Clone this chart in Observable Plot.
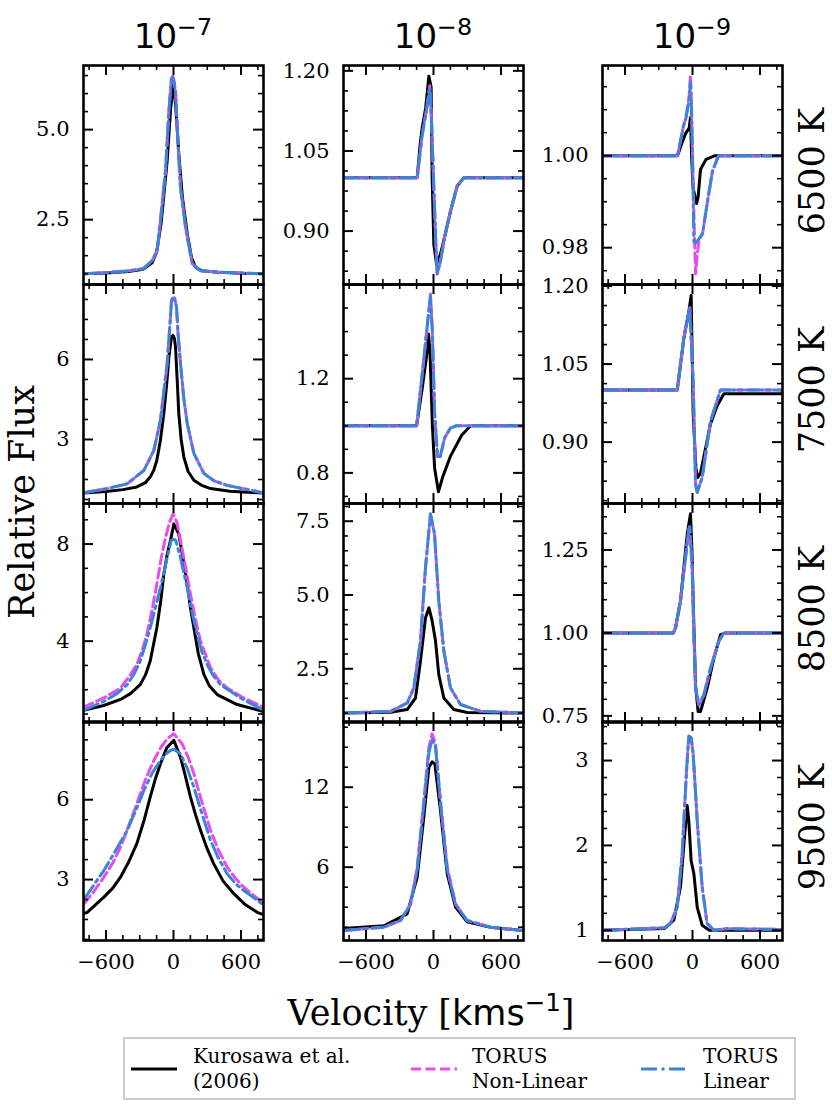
<!DOCTYPE html>
<html><head><meta charset="utf-8">
<script src="https://cdn.jsdelivr.net/npm/d3@7"></script>
<script src="https://cdn.jsdelivr.net/npm/@observablehq/plot@0.6"></script>
<style>
body{margin:0;background:#fff;}
#fig{position:relative;width:832px;height:1108px;overflow:hidden;background:#fff;}
.abs{position:absolute;white-space:nowrap;transform:translate(-50%,-50%);line-height:1;}
.rot{transform:translate(-50%,-50%) rotate(-90deg);}
sup{font-size:0.7em;vertical-align:0.55em;line-height:0;}
</style></head><body><div id="fig"></div>
<script>
// ---------------- DATA: [velocity km/s, relative flux] ----------------
const temps = ["6500 K", "7500 K", "8500 K", "9500 K"];
const rateExp = ["−7", "−8", "−9"];
const xTicks = [-600, 0, 600];
const seriesNames = ["Kurosawa et al.|(2006)", "TORUS|Non-Linear", "TORUS|Linear"];

// 6500 K
const K65_7 = [[-800,1.0],[-600,1.02],[-400,1.06],[-270,1.12],[-190,1.3],[-150,1.6],[-110,2.4],[-56,4.14],[-25,5.6],[3,6.31],[25,5.4],[47,4.33],[80,3.1],[122,2.11],[160,1.45],[196,1.18],[250,1.08],[400,1.04],[600,1.01],[800,1.0]];
const N65_7 = [[-800,1.0],[-600,1.03],[-400,1.08],[-267,1.14],[-190,1.36],[-145,1.64],[-116,2.47],[-71,3.86],[-41,5.53],[-18,6.45],[-8,6.52],[5,6.35],[18,6.08],[33,5.06],[62,3.4],[107,2.29],[166,1.28],[240,1.08],[400,1.04],[600,1.02],[800,1.0]];
const L65_7 = [[-800,1.0],[-600,1.03],[-400,1.08],[-267,1.14],[-190,1.36],[-145,1.64],[-116,2.47],[-71,3.86],[-41,5.5],[-18,6.4],[-8,6.45],[5,6.3],[18,6.05],[33,5.06],[62,3.4],[107,2.29],[166,1.28],[240,1.08],[400,1.04],[600,1.02],[800,1.0]];
const K65_8 = [[-800,1.0],[-145,1.0],[-120,1.06],[-100,1.094],[-70,1.13],[-41,1.19],[-21,1.169],[-12,1.0],[3,0.875],[27,0.838],[62,0.857],[100,0.89],[151,0.937],[210,0.984],[270,1.0],[800,1.0]];
const N65_8 = [[-800,1.0],[-145,1.0],[-100,1.08],[-60,1.13],[-33,1.172],[-20,1.12],[0,1.0],[20,0.88],[33,0.819],[62,0.844],[100,0.89],[151,0.937],[210,0.984],[270,1.0],[800,1.0]];
const L65_8 = [[-800,1.0],[-145,1.0],[-100,1.08],[-60,1.13],[-33,1.17],[-20,1.12],[0,1.0],[20,0.88],[33,0.82],[62,0.844],[100,0.89],[151,0.937],[210,0.984],[270,1.0],[800,1.0]];
const K65_9 = [[-800,1.0],[-133,1.0],[-90,1.003],[-62,1.0048],[-30,1.006],[-18,1.0083],[-8,1.0],[5,0.993],[36,0.9896],[50,0.991],[71,0.997],[120,0.9992],[200,1.0],[800,1.0]];
const N65_9 = [[-800,1.0],[-133,1.0],[-100,1.004],[-80,1.0065],[-60,1.008],[-30,1.013],[-18,1.0174],[-10,1.012],[0,1.0],[15,0.985],[27,0.9743],[40,0.978],[60,0.982],[89,0.983],[133,0.990],[178,0.9967],[231,1.0],[800,1.0]];
const L65_9 = [[-800,1.0],[-133,1.0],[-100,1.004],[-80,1.0065],[-60,1.008],[-30,1.012],[-18,1.016],[-10,1.011],[0,1.0],[12,0.9813],[27,0.981],[60,0.982],[89,0.983],[133,0.990],[178,0.9967],[231,1.0],[800,1.0]];
// 7500 K
const K75_7 = [[-800,0.99],[-600,1.05],[-450,1.12],[-326,1.22],[-250,1.38],[-207,1.59],[-175,1.85],[-148,2.22],[-117,2.95],[-86,3.97],[-60,5.1],[-41,6.09],[-18,6.84],[-5,6.9],[8,6.8],[18,6.46],[33,5.21],[47,3.97],[68,3.0],[92,2.34],[130,1.8],[181,1.47],[250,1.28],[329,1.16],[500,1.06],[800,0.99]];
const N75_7 = [[-800,1.0],[-600,1.15],[-411,1.34],[-263,1.84],[-175,2.59],[-116,3.72],[-56,5.85],[-30,7.4],[-18,8.21],[-3,8.38],[10,8.3],[27,7.96],[40,7.0],[62,5.85],[90,4.6],[122,3.6],[181,2.48],[270,1.73],[360,1.45],[477,1.28],[800,1.0]];
const L75_7 = [[-800,1.0],[-600,1.15],[-411,1.34],[-263,1.84],[-175,2.59],[-116,3.72],[-56,5.85],[-30,7.4],[-18,8.18],[-3,8.33],[10,8.26],[27,7.96],[40,7.0],[62,5.85],[90,4.6],[122,3.6],[181,2.48],[270,1.73],[360,1.45],[477,1.28],[800,1.0]];
const K75_8 = [[-800,1.0],[-150,1.0],[-100,1.16],[-60,1.3],[-44,1.39],[-30,1.3],[-10,1.0],[10,0.82],[44,0.72],[80,0.78],[150,0.87],[250,0.96],[330,1.0],[800,1.0]];
const N75_8 = [[-800,1.0],[-150,1.0],[-100,1.22],[-50,1.45],[-27,1.56],[-10,1.4],[10,1.05],[36,0.87],[60,0.87],[100,0.95],[150,0.99],[200,1.0],[800,1.0]];
const L75_8 = [[-800,1.0],[-150,1.0],[-100,1.22],[-50,1.45],[-27,1.55],[-10,1.4],[10,1.05],[36,0.87],[60,0.87],[100,0.95],[150,0.99],[200,1.0],[800,1.0]];
const K75_9 = [[-800,1.0],[-136,1.0],[-100,1.06],[-77,1.10],[-33,1.15],[-12,1.182],[6,0.955],[30,0.85],[47,0.832],[71,0.84],[160,0.935],[219,0.97],[279,0.993],[800,0.993]];
const N75_9 = [[-800,1.0],[-136,1.0],[-100,1.06],[-77,1.10],[-50,1.13],[-33,1.15],[-24,1.16],[-10,1.09],[6,1.018],[27,0.82],[42,0.803],[86,0.832],[160,0.94],[204,0.97],[249,1.0],[800,1.0]];
const L75_9 = [[-800,1.0],[-136,1.0],[-100,1.06],[-77,1.10],[-50,1.13],[-33,1.15],[-24,1.16],[-10,1.09],[6,1.018],[27,0.82],[42,0.803],[86,0.832],[160,0.94],[204,0.97],[249,1.0],[800,1.0]];
// 8500 K
const K85_7 = [[-800,1.15],[-620,1.35],[-471,1.6],[-380,1.85],[-296,2.21],[-250,2.6],[-207,3.18],[-148,4.55],[-115,5.6],[-86,6.76],[-55,7.6],[-27,8.14],[3,8.83],[47,8.41],[85,7.4],[122,6.35],[150,5.4],[181,4.55],[220,3.5],[270,2.63],[320,2.15],[388,1.8],[566,1.39],[800,1.1]];
const N85_7 = [[-800,1.28],[-619,1.66],[-471,2.07],[-400,2.5],[-326,3.04],[-280,3.6],[-237,4.28],[-190,5.3],[-148,6.35],[-110,7.4],[-71,8.27],[-35,8.9],[-3,9.24],[30,8.9],[62,8.14],[105,7.1],[151,5.93],[195,4.9],[240,4.0],[329,2.9],[400,2.4],[477,2.07],[625,1.66],[800,1.28]];
const L85_7 = [[-800,1.15],[-619,1.52],[-500,1.85],[-411,2.21],[-350,2.65],[-296,3.18],[-250,3.85],[-207,4.55],[-160,5.4],[-116,6.2],[-85,6.85],[-56,7.45],[-20,8.15],[3,8.2],[20,8.15],[62,7.45],[90,6.85],[122,6.2],[165,5.2],[210,4.28],[250,3.6],[299,3.04],[350,2.6],[418,2.21],[596,1.66],[800,1.15]];
const K85_8 = [[-800,1.0],[-382,1.03],[-234,1.12],[-160,1.51],[-116,2.76],[-71,4.23],[-41,4.57],[-12,4.12],[18,3.44],[47,2.3],[92,1.51],[181,1.12],[300,1.02],[800,1.0]];
const N85_8 = [[-800,1.0],[-382,1.06],[-234,1.34],[-175,1.85],[-116,3.44],[-71,5.93],[-27,7.75],[9,7.07],[47,4.8],[92,3.1],[151,1.85],[240,1.29],[418,1.06],[800,1.0]];
const L85_8 = [[-800,1.0],[-382,1.06],[-234,1.34],[-175,1.85],[-116,3.44],[-71,5.93],[-27,7.75],[9,7.07],[47,4.8],[92,3.1],[151,1.85],[240,1.29],[418,1.06],[800,1.0]];
const K85_9 = [[-800,1.0],[-170,1.0],[-151,1.015],[-107,1.096],[-47,1.298],[-18,1.359],[-5,1.25],[12,1.025],[27,0.843],[50,0.763],[71,0.763],[130,0.833],[190,0.924],[249,0.995],[300,1.0],[800,1.0]];
const N85_9 = [[-800,1.0],[-170,1.0],[-151,1.015],[-107,1.096],[-62,1.227],[-33,1.313],[-25,1.32],[-3,1.197],[12,0.995],[27,0.833],[56,0.783],[101,0.813],[160,0.894],[234,0.975],[279,1.0],[800,1.0]];
const L85_9 = [[-800,1.0],[-170,1.0],[-151,1.015],[-107,1.096],[-62,1.227],[-33,1.313],[-25,1.32],[-3,1.197],[12,0.995],[27,0.833],[56,0.783],[101,0.813],[160,0.894],[234,0.975],[279,1.0],[800,1.0]];
// 9500 K
const K95_7 = [[-800,1.72],[-767,1.77],[-619,2.34],[-540,2.68],[-471,3.09],[-400,3.65],[-326,4.35],[-260,5.25],[-207,6.1],[-160,6.8],[-116,7.35],[-60,7.95],[3,8.23],[62,7.6],[105,6.9],[151,6.1],[195,5.45],[240,4.85],[300,4.15],[358,3.59],[440,2.95],[536,2.47],[640,2.05],[744,1.77],[800,1.68]];
const N95_7 = [[-800,2.1],[-782,2.15],[-700,2.6],[-619,3.09],[-540,3.62],[-471,4.22],[-400,5.0],[-326,5.85],[-250,6.75],[-175,7.48],[-110,7.98],[-56,8.29],[3,8.48],[77,8.1],[130,7.6],[181,6.98],[250,5.95],[329,4.85],[400,4.1],[477,3.47],[550,3.05],[625,2.71],[800,2.1]];
const L95_7 = [[-800,2.3],[-782,2.34],[-700,2.85],[-619,3.34],[-520,4.05],[-411,4.85],[-335,5.6],[-263,6.35],[-190,7.0],[-116,7.48],[-60,7.75],[-27,7.85],[3,7.9],[62,7.73],[120,7.2],[181,6.47],[255,5.45],[329,4.47],[400,3.8],[477,3.22],[550,2.85],[625,2.59],[800,2.05]];
const K95_8 = [[-800,1.4],[-441,1.6],[-234,2.5],[-145,5.25],[-86,9.75],[-41,13.5],[-12,13.9],[12,13.75],[62,10.25],[122,5.5],[196,3.0],[299,1.9],[507,1.5],[800,1.25]];
const N95_8 = [[-800,1.25],[-441,1.5],[-293,2.0],[-204,3.25],[-145,6.0],[-86,11.0],[-41,15.0],[-12,16.0],[18,15.25],[62,11.0],[122,6.0],[196,3.25],[299,2.0],[507,1.5],[800,1.25]];
const L95_8 = [[-800,1.25],[-441,1.5],[-293,2.0],[-204,3.2],[-145,5.8],[-86,10.7],[-41,14.6],[-12,15.6],[18,15.0],[62,10.8],[122,5.8],[196,3.2],[299,2.0],[507,1.5],[800,1.25]];
const K95_9 = [[-800,1.0],[-250,1.02],[-166,1.12],[-107,1.51],[-71,2.1],[-47,2.47],[-33,2.29],[-12,1.82],[12,1.67],[42,1.27],[86,1.06],[150,1.0],[800,1.0]];
const N95_9 = [[-800,1.0],[-250,1.03],[-196,1.08],[-136,1.27],[-92,1.9],[-53,2.88],[-33,3.29],[-12,3.27],[6,3.08],[42,2.29],[86,1.51],[130,1.08],[190,1.0],[300,1.02],[800,1.01]];
const L95_9 = [[-800,1.0],[-250,1.03],[-196,1.08],[-136,1.27],[-92,1.9],[-53,2.88],[-33,3.29],[-12,3.27],[6,3.08],[42,2.29],[86,1.51],[130,1.08],[190,1.0],[300,1.02],[800,1.01]];

// y-axis settings per panel (row-major)
const yDomains = [[0.70,6.78],[0.80,1.21],[0.972,1.0196],
                  [0.60,8.81],[0.67,1.60],[0.782,1.203],
                  [0.65,9.67],[0.68,8.10],[0.73,1.39],
                  [0.71,8.94],[0.50,16.93],[0.88,3.46]];
const yTickVals = [[2.5,5.0],[0.90,1.05,1.20],[0.98,1.00],
                   [3,6],[0.8,1.2],[0.90,1.05,1.20],
                   [4,8],[2.5,5.0,7.5],[0.75,1.00,1.25],
                   [3,6],[6,12],[1,2,3]];
const yMinorStep = [0.5,0.0375,0.005, 0.75,0.1,0.0375, 1,0.5,0.05, 0.75,1.5,0.2];
const yDecimals = [1,2,2, 0,1,2, 0,1,2, 0,0,0];

// ---------------- LAYOUT ----------------
const K = [K65_7,K65_8,K65_9,K75_7,K75_8,K75_9,K85_7,K85_8,K85_9,K95_7,K95_8,K95_9];
const N = [N65_7,N65_8,N65_9,N75_7,N75_8,N75_9,N85_7,N85_8,N85_9,N95_7,N95_8,N95_9];
const L = [L65_7,L65_8,L65_9,L75_7,L75_8,L75_9,L85_7,L85_8,L85_9,L95_7,L95_8,L95_9];

const colLeft = [83, 343, 602];
const rowTop = [65, 284, 503, 721];
const PW = 180, PH = 219;
const MAG = "#e64cf0", BLU = "#3a85d8";
const LW = 3;
const fig = document.getElementById("fig");
const minus = d => d < 0 ? "\u2212" + Math.abs(d) : String(d);

function addPanel(r, c) {
  const i = r * 3 + c;
  const [y0, y1] = yDomains[i];
  const bottom = r === 3;
  const mL = 80, mR = 4, mT = 4, mB = bottom ? 48 : 4;
  const st = yMinorStep[i];
  const majY = yTickVals[i];
  const minY = d3.range(Math.ceil(y0 / st - 1e-9), Math.floor(y1 / st + 1e-9) + 1).map(k => k * st)
    .filter(v => !majY.some(m => Math.abs(m - v) < st / 10));
  const minX = [-750, -450, -300, -150, 150, 300, 450, 750];
  const xy = {x: d => d[0], y: d => d[1], clip: true, strokeWidth: LW};
  const marks = [
    Plot.line(K[i], {...xy, stroke: "black"}),
    Plot.line(N[i], {...xy, stroke: MAG, strokeDasharray: "10,4.5"}),
    Plot.line(L[i], {...xy, stroke: BLU, strokeDasharray: "16,4.5,3,4.5"}),
    Plot.tickX(xTicks, {x: d => d, insetTop: PH - 10, strokeWidth: 2}),
    Plot.tickX(xTicks, {x: d => d, insetBottom: PH - 10, strokeWidth: 2}),
    Plot.tickX(minX, {x: d => d, insetTop: PH - 5, strokeWidth: 1.6}),
    Plot.tickX(minX, {x: d => d, insetBottom: PH - 5, strokeWidth: 1.6}),
    Plot.tickY(majY, {y: d => d, insetRight: PW - 10, strokeWidth: 2}),
    Plot.tickY(majY, {y: d => d, insetLeft: PW - 10, strokeWidth: 2}),
    Plot.tickY(minY, {y: d => d, insetRight: PW - 5, strokeWidth: 1.6}),
    Plot.tickY(minY, {y: d => d, insetLeft: PW - 5, strokeWidth: 1.6}),
    Plot.frame({strokeWidth: 2.6}),
    Plot.axisY({ticks: majY, tickSize: 0, tickPadding: 14, tickFormat: d => d.toFixed(yDecimals[i]), label: null})
  ];
  if (bottom) marks.push(Plot.axisX({ticks: xTicks, tickSize: 0, tickPadding: 14, tickFormat: minus, label: null}));
  const svg = Plot.plot({
    width: PW + mL + mR, height: PH + mT + mB,
    marginLeft: mL, marginRight: mR, marginTop: mT, marginBottom: mB,
    x: {domain: [-800, 800], axis: null},
    y: {domain: [y0, y1], axis: null},
    style: {background: "transparent", fontFamily: "DejaVu Serif", fontSize: "21px", color: "black", overflow: "visible"},
    marks
  });
  svg.style.position = "absolute";
  svg.style.left = (colLeft[c] - mL) + "px";
  svg.style.top = (rowTop[r] - mT) + "px";
  svg.style.maxWidth = "none";
  fig.appendChild(svg);
}

for (let r = 0; r < 4; r++) for (let c = 0; c < 3; c++) addPanel(r, c);

function addText(html, x, y, css, rot) {
  const d = document.createElement("div");
  d.className = "abs" + (rot ? " rot" : "");
  d.innerHTML = html;
  d.style.left = x + "px"; d.style.top = y + "px";
  Object.assign(d.style, css);
  fig.appendChild(d);
}
const sans = {fontFamily: "DejaVu Sans", fontSize: "34px"};
rateExp.forEach((e, c) => addText(`10<sup>${e}</sup>`, colLeft[c] + PW / 2, 36, sans));
temps.forEach((t, r) => addText(t, 812, rowTop[r] + PH / 2 - 4, {fontFamily: "DejaVu Serif", fontSize: "35px", lineHeight: "28px"}, true));
addText("Relative Flux", 22, 502, {fontFamily: "DejaVu Serif", fontSize: "35px"}, true);
addText(`Velocity [<span style="font-family:'DejaVu Sans'">kms<sup>−1</sup></span>]`, 431, 1013, {fontFamily: "DejaVu Serif", fontSize: "35px"});

// legend
const leg = document.createElement("div");
Object.assign(leg.style, {position: "absolute", left: "123px", top: "1037px", width: "669px", height: "59px", border: "2px solid #cccccc", background: "#fff"});
fig.appendChild(leg);
const legItems = [
  {x: 131, tx: 193, stroke: "black", dash: null},
  {x: 411, tx: 472, stroke: MAG, dash: "10,4.5"},
  {x: 641, tx: 703, stroke: BLU, dash: "16,4.5,3,4.5"}
];
legItems.forEach((it, k) => {
  const s = document.createElementNS("http://www.w3.org/2000/svg", "svg");
  s.setAttribute("width", 48); s.setAttribute("height", 10);
  Object.assign(s.style, {position: "absolute", left: it.x + "px", top: "1064px"});
  const ln = document.createElementNS("http://www.w3.org/2000/svg", "line");
  ln.setAttribute("x1", 0); ln.setAttribute("x2", 46); ln.setAttribute("y1", 5); ln.setAttribute("y2", 5);
  ln.setAttribute("stroke", it.stroke); ln.setAttribute("stroke-width", LW);
  if (it.dash) ln.setAttribute("stroke-dasharray", it.dash);
  s.appendChild(ln); fig.appendChild(s);
  const t = document.createElement("div");
  Object.assign(t.style, {position: "absolute", left: it.tx + "px", top: "1044px", fontFamily: "DejaVu Serif", fontSize: "20px", lineHeight: "25px", whiteSpace: "nowrap"});
  t.innerHTML = seriesNames[k].split("|").join("<br>");
  fig.appendChild(t);
});
</script></body></html>
